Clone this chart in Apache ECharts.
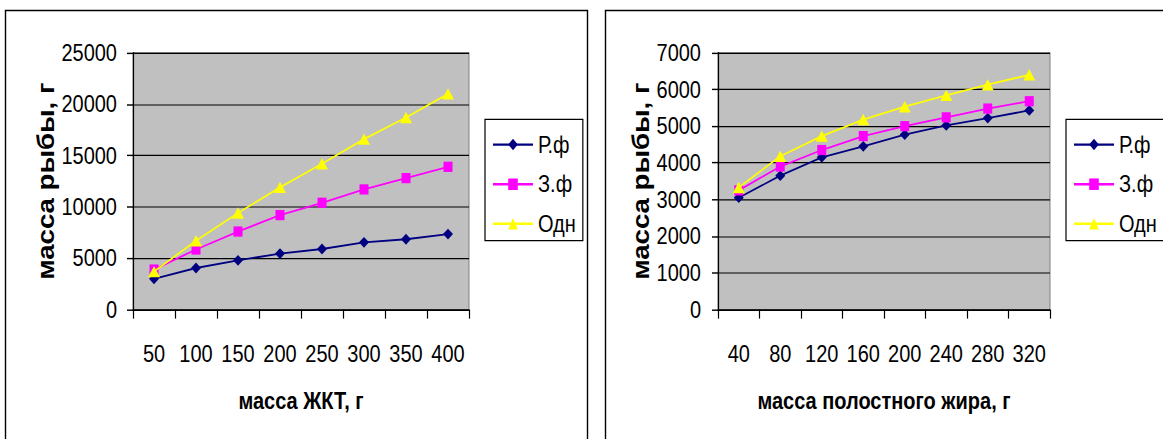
<!DOCTYPE html>
<html>
<head>
<meta charset="utf-8">
<script src="https://cdn.jsdelivr.net/npm/echarts@6/dist/echarts.min.js"></script>
<style>
  html, body { margin: 0; padding: 0; background: #fff; overflow: hidden; }
  #wrap { width: 1163px; height: 439px; overflow: hidden; }
  /* the chart is laid out 1.2x shorter and stretched back to full height,
     which gives the tall, narrow lettering of the original sheet */
  #chart { width: 1163px; height: 366px; transform: scaleY(1.2); transform-origin: 0 0; }
</style>
</head>
<body>
<div id="wrap"><div id="chart"></div></div>
<script>
// Fish mass vs. gut (ЖКТ) mass and vs. cavity fat mass, three groups
const catsGut = ['50', '100', '150', '200', '250', '300', '350', '400'];
const catsFat = ['40', '80', '120', '160', '200', '240', '280', '320'];
const seriesNames = ['Р.ф', 'З.ф', 'Одн'];

const rfGut  = [3000, 4050, 4800, 5450, 5900, 6550, 6850, 7350];
const zfGut  = [3900, 5850, 7600, 9200, 10400, 11700, 12800, 13900];
const odnGut = [3700, 6700, 9400, 11900, 14200, 16600, 18700, 21000];

const rfFat  = [3050, 3650, 4150, 4450, 4770, 5020, 5220, 5430];
const zfFat  = [3250, 3900, 4350, 4730, 5000, 5240, 5480, 5680];
const odnFat = [3330, 4180, 4730, 5180, 5530, 5840, 6130, 6400];

const yTitle = 'масса рыбы, г';
const xTitleGut = 'масса ЖКТ, г';
const xTitleFat = 'масса полостного жира, г';

const FONT = '"Liberation Sans", Arial, sans-serif';

const colors = ['#000080', '#FF00FF', '#FFFF00'];
const symbols = ['diamond', 'rect', 'triangle'];
const symbolSizes = [[10, 9], [9, 8.5], [12, 9.5]];

const grids = [
  { left: 133, top: 44, width: 336, height: 214 },
  { left: 718, top: 44, width: 332, height: 214 }
];

function gridOpt(g) {
  return Object.assign({
    show: true,
    backgroundColor: '#C0C0C0',
    borderColor: '#808080',
    borderWidth: 1
  }, g);
}

function xAxisOpt(idx, cats, title) {
  return {
    type: 'category',
    gridIndex: idx,
    data: cats,
    boundaryGap: true,
    axisLine: { show: true, lineStyle: { color: '#000', width: 1.2 } },
    axisTick: { show: true, length: 7.5, interval: 0, lineStyle: { color: '#000', width: 1.2 } },
    axisLabel: { interval: 0, margin: 26.5, color: '#000', fontFamily: FONT, fontSize: 20 },
    name: title,
    nameLocation: 'middle',
    nameGap: 66,
    nameTextStyle: { color: '#000', fontFamily: FONT, fontWeight: 'bold', fontSize: 20 }
  };
}

function yAxisOpt(idx, max, interval, margin, gap) {
  return {
    type: 'value',
    gridIndex: idx,
    min: 0,
    max: max,
    interval: interval,
    axisLine: { show: true, lineStyle: { color: '#000', width: 1.2 } },
    axisTick: { show: true, length: 6, lineStyle: { color: '#000', width: 1.2 } },
    splitLine: { show: true, lineStyle: { color: '#000', width: 1 } },
    axisLabel: {
      margin: margin, color: '#000', fontFamily: FONT, fontSize: 20,
      formatter: v => String(v)
    },
    name: yTitle,
    nameLocation: 'middle',
    nameRotate: 90,
    nameGap: gap,
    nameTextStyle: { color: '#000', fontFamily: FONT, fontWeight: 'bold', fontSize: 23 }
  };
}

function lineSeries(name, i, data, idx) {
  return {
    type: 'line',
    name: name,
    xAxisIndex: idx,
    yAxisIndex: idx,
    data: data,
    symbol: symbols[i],
    symbolSize: symbolSizes[i],
    showAllSymbol: true,
    color: colors[i],
    lineStyle: { color: colors[i], width: 1.5 },
    itemStyle: { color: colors[i], borderWidth: 0 },
    animation: false,
    z: 2 + i
  };
}

function legendOpt(left, top) {
  return {
    orient: 'vertical',
    left: left,
    top: top,
    data: seriesNames,
    itemWidth: 40,
    itemHeight: 12,
    itemGap: 13,
    padding: [11, 7, 4, 7],
    borderColor: '#000',
    borderWidth: 1.2,
    backgroundColor: '#fff',
    selectedMode: false,
    textStyle: { color: '#000', fontFamily: FONT, fontSize: 20 }
  };
}

const chart = echarts.init(document.getElementById('chart'), null, { renderer: 'svg' });

const seriesList = [];
[rfGut, zfGut, odnGut].forEach((d, i) => seriesList.push(lineSeries(seriesNames[i], i, d, 0)));
[rfFat, zfFat, odnFat].forEach((d, i) => seriesList.push(lineSeries(seriesNames[i], i, d, 1)));

chart.setOption({
  animation: false,
  backgroundColor: '#fff',
  grid: grids.map(gridOpt),
  xAxis: [xAxisOpt(0, catsGut, xTitleGut), xAxisOpt(1, catsFat, xTitleFat)],
  yAxis: [yAxisOpt(0, 25000, 5000, 16, 72), yAxisOpt(1, 7000, 1000, 17, 57)],
  legend: [legendOpt(485, 99.5), legendOpt(1066, 99.5)],
  series: seriesList,
  graphic: [
    { type: 'rect', silent: true, z: -10,
      shape: { x: 5.5, y: 8.75, width: 582, height: 400 },
      style: { fill: 'none', stroke: '#000', lineWidth: 1.4 } },
    { type: 'rect', silent: true, z: -10,
      shape: { x: 605.5, y: 8.75, width: 600, height: 400 },
      style: { fill: 'none', stroke: '#000', lineWidth: 1.4 } }
  ]
});
</script>
</body>
</html>
